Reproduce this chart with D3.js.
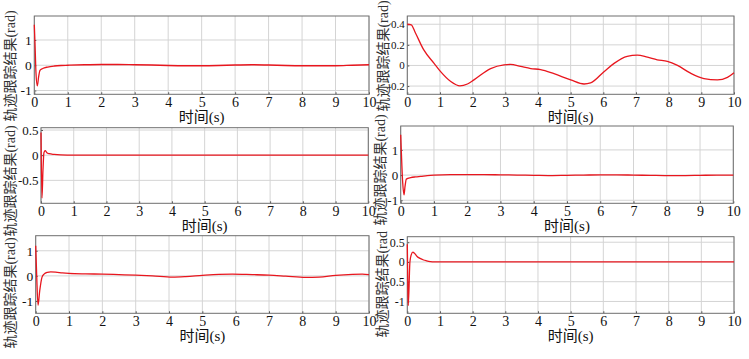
<!DOCTYPE html>
<html><head><meta charset="utf-8">
<script src="https://cdn.jsdelivr.net/npm/d3@7"></script>
<style>
body{margin:0;background:#fff;}
svg{display:block;}
.serif{font-family:"Liberation Serif","Tinos","Times New Roman",Times,"DejaVu Serif",serif;}
.cjk{font-family:"Liberation Serif","Tinos","Times New Roman","Noto Sans CJK SC",serif;}
</style></head>
<body><svg id="c" width="749" height="359"></svg>
<script>
// ---- data ----
const xTicks = [0,1,2,3,4,5,6,7,8,9,10];
const yLabel = "轨迹跟踪结果(rad)";
const xLabel = "时间(s)";

const t1 = [0,0.02,0.05,0.09,0.13,0.17,0.25,0.4,0.6,0.8,1,1.5,2,2.5,3,3.5,4,4.5,5,5.5,6,6.5,7,7.5,8,8.5,9,9.5,10];
const y1 = [1.6,0.9,-0.3,-0.82,-0.45,-0.2,-0.13,-0.07,-0.03,-0.01,0.0,0.02,0.03,0.03,0.02,0.01,-0.01,-0.02,-0.02,-0.01,0.01,0.02,0.01,-0.01,-0.02,-0.02,-0.02,0.0,0.02];
const yTicks1 = [-1,0,1];

const t2 = [0,0.12,0.25,0.5,0.82,1.02,1.33,1.61,1.84,2.04,2.55,2.96,3.16,3.47,3.78,4.08,4.49,5.0,5.41,5.61,6.02,6.33,6.73,7.04,7.35,7.65,7.96,8.27,8.67,9.08,9.49,9.8,10];
const y2 = [0.4,0.394,0.315,0.153,0.02,-0.06,-0.156,-0.198,-0.18,-0.14,-0.03,0.006,0.01,-0.01,-0.03,-0.04,-0.08,-0.14,-0.18,-0.17,-0.06,0.02,0.088,0.1,0.08,0.055,0.04,0,-0.075,-0.127,-0.14,-0.115,-0.07];
const yTicks2 = [-0.2,0,0.2,0.4];

const t3 = [0,0.03,0.06,0.09,0.13,0.18,0.25,0.4,0.6,1,2,3,4,5,6,7,8,9,10];
const y3 = [0.45,-0.85,-0.3,0.05,0.09,0.05,0.03,0.015,0.005,0,0,0,0,0,0,0,0,0,0];
const yTicks3 = [-0.5,0,0.5];

const t4 = [0,0.02,0.06,0.1,0.13,0.17,0.3,0.45,0.6,0.8,1,1.5,2,2.5,3,3.5,4,4.5,5,5.5,6,6.5,7,7.5,8,8.5,9,9.5,10];
const y4 = [1.6,0.9,-0.3,-0.78,-0.45,-0.16,-0.1,-0.07,-0.05,-0.02,0.0,0.02,0.02,0.02,0.01,0.0,-0.01,-0.02,-0.01,0.0,0.01,0.01,0.0,-0.01,-0.02,-0.02,-0.01,0.0,0.0];
const yTicks4 = [-1,0,1];

const t5 = [0,0.03,0.07,0.12,0.19,0.25,0.35,0.45,0.6,0.8,1,1.5,2,2.5,3,3.5,4.1,4.5,5,5.5,5.9,6.5,7,7.5,8.1,8.5,9,9.5,9.8,10];
const y5 = [1.2,0.0,-1.17,-0.6,-0.05,0.07,0.14,0.16,0.15,0.12,0.1,0.08,0.07,0.05,0.03,0.0,-0.05,-0.03,0.02,0.06,0.07,0.05,0.03,-0.01,-0.06,-0.05,0.02,0.06,0.07,0.05];
const yTicks5 = [-1,0,1];

const t6 = [0,0.015,0.03,0.08,0.12,0.17,0.22,0.3,0.39,0.5,0.59,0.7,0.8,1,10];
const y6 = [0.45,-0.5,-1.1,0.0,0.18,0.25,0.22,0.14,0.09,0.05,0.03,0.01,0,0,0];
const yTicks6 = [-1,-0.5,0,0.5];

// ---- layout ----
const panels = [
  {t:t1,y:y1,yt:yTicks1,dom:[-1.15,1.95],L:34.3,R:369,T:16,B:94.3,lx:10,ly:66,tf:13.5},
  {t:t2,y:y2,yt:yTicks2,dom:[-0.28,0.48],L:407.3,R:734,T:16,B:94.3,lx:383.5,ly:56,tf:11},
  {t:t3,y:y3,yt:yTicks3,dom:[-0.956,0.546],L:41,R:368.3,T:127.7,B:203.3,lx:10,ly:181,tf:13},
  {t:t4,y:y4,yt:yTicks4,dom:[-1.12,1.95],L:400.7,R:733.3,T:126,B:203.3,lx:380,ly:170,tf:13},
  {t:t5,y:y5,yt:yTicks5,dom:[-1.49,1.6],L:35.7,R:369,T:235.7,B:313.3,lx:10,ly:293,tf:13.5},
  {t:t6,y:y6,yt:yTicks6,dom:[-1.3,0.64],L:407.3,R:734,T:236.7,B:313.3,lx:382,ly:282,tf:12,clipTop:231}
];

const svg = d3.select("#c");
const defs = svg.append("defs");
const fmt = v => String(v).replace("−","-");

panels.forEach((p,i)=>{
  const g = svg.append("g");
  const x = d3.scaleLinear().domain([0,10]).range([p.L,p.R]);
  const y = d3.scaleLinear().domain(p.dom).range([p.B,p.T]);
  // grid
  g.append("g").selectAll("line").data(xTicks).join("line")
    .attr("x1",d=>x(d)).attr("x2",d=>x(d)).attr("y1",p.T).attr("y2",p.B)
    .attr("stroke","#d4d4d4").attr("stroke-width",1);
  g.append("g").selectAll("line").data(p.yt).join("line")
    .attr("x1",p.L).attr("x2",p.R).attr("y1",d=>y(d)).attr("y2",d=>y(d))
    .attr("stroke","#d4d4d4").attr("stroke-width",1);
  // axes via d3 axis (inward ticks)
  const xa = g.append("g").attr("transform",`translate(0,${p.B})`)
    .call(d3.axisBottom(x).tickValues(xTicks).tickSize(-2).tickPadding(4).tickFormat(d=>d));
  const ya = g.append("g").attr("transform",`translate(${p.L},0)`)
    .call(d3.axisLeft(y).tickValues(p.yt).tickSize(-2).tickPadding(2.5).tickFormat(fmt));
  [xa,ya].forEach(a=>{
    a.attr("font-family",null).attr("font-size",null).attr("class","serif");
    a.select(".domain").remove(); a.selectAll("line").attr("stroke","#555");
  });
  xa.selectAll("text").style("font-size","14px").attr("fill","#111").attr("dy","0.62em");
  ya.selectAll("text").style("font-size",p.tf+"px").attr("fill","#111");
  // box
  g.append("rect").attr("x",p.L).attr("y",p.T).attr("width",p.R-p.L).attr("height",p.B-p.T)
    .attr("fill","none").attr("stroke","#6e6e6e").attr("stroke-width",1);
  // line
  const pts = p.t.map((tv,k)=>[tv,p.y[k]]);
  g.append("path").datum(pts)
    .attr("d",d3.line().x(d=>x(d[0])).y(d=>y(d[1])).curve(d3.curveMonotoneX))
    .attr("fill","none").attr("stroke","#e8161e").attr("stroke-width",1.3);
  // x label
  g.append("text").attr("class","cjk").attr("x",(p.L+p.R)/2).attr("y",p.B+27.5).attr("text-anchor","middle")
    .style("font-size","15px").attr("fill","#111").text(xLabel);
  // y label
  let lg = g;
  if(p.clipTop!==undefined){
    defs.append("clipPath").attr("id","cl"+i).append("rect")
      .attr("x",p.lx-20).attr("y",p.clipTop).attr("width",40).attr("height",359-p.clipTop);
    lg = g.append("g").attr("clip-path",`url(#cl${i})`);
  }
  lg.append("text").attr("class","cjk").attr("transform",`translate(${p.lx},${p.ly}) rotate(-90)`)
    .attr("text-anchor","middle").attr("dominant-baseline","central")
    .style("font-size","14px").attr("fill","#333").text(yLabel);
});
</script></body></html>
